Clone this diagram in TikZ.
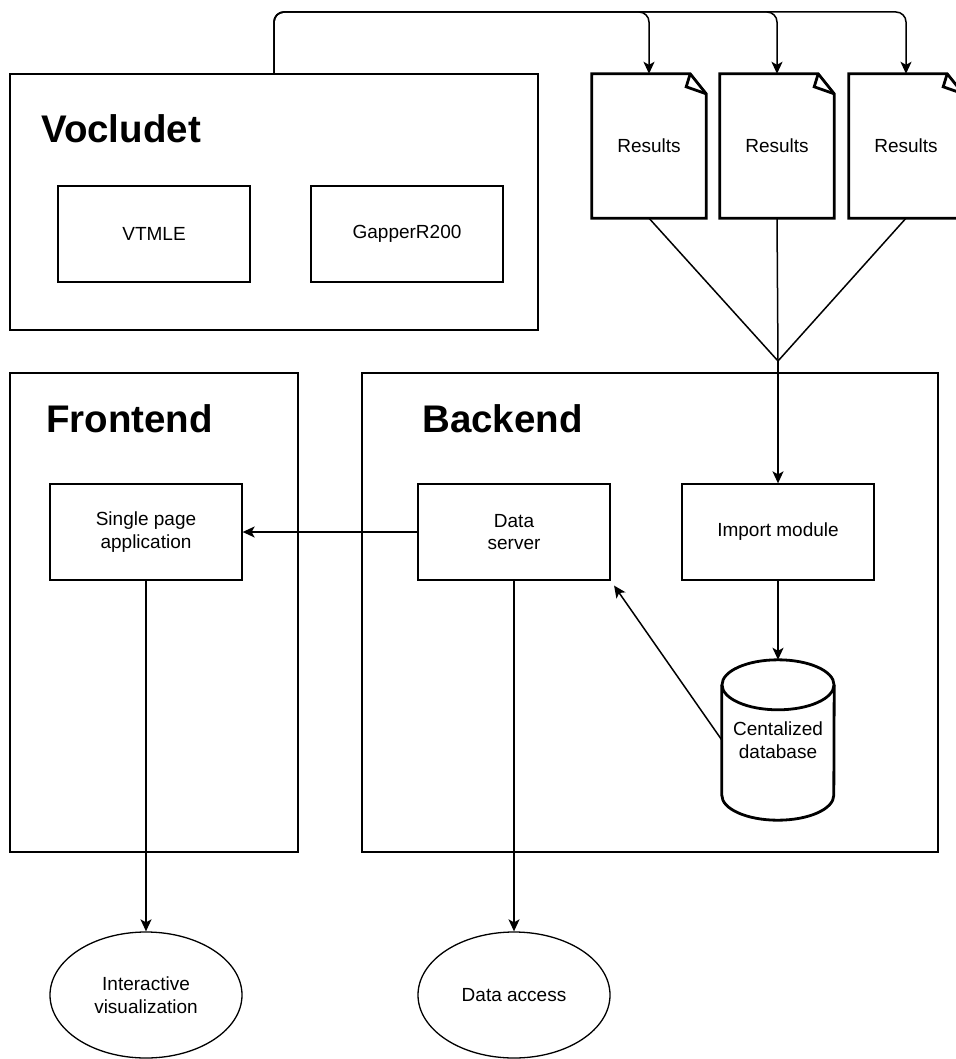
\documentclass[tikz,border=0pt]{standalone}
\usepackage{fontspec}
\setmainfont{Liberation Sans}
\usetikzlibrary{arrows.meta,shapes.geometric,calc}
\tikzset{
  container/.style={draw, line width=1.3pt, inner sep=0pt},
  box/.style={draw, line width=1.3pt, minimum width=192pt, minimum height=96pt, align=center, inner sep=0pt, font=\fontsize{19}{22.5}\selectfont},
  title/.style={anchor=base west, inner sep=0pt, font=\fontsize{38.5}{46}\selectfont\bfseries},
  docnode/.style={minimum width=114pt, minimum height=144pt, inner sep=0pt, align=center, font=\fontsize{19}{22.5}\selectfont},
  docline/.style={line width=2.8pt, line join=miter},
  conn/.style={line width=1.5pt},
  arr/.style={conn, -{Stealth[length=12pt,width=11pt,inset=3pt]}},
  oval/.style={draw, ellipse, line width=1.3pt, minimum width=192pt, minimum height=126pt, inner sep=0pt, align=center, font=\fontsize{19}{22.5}\selectfont},
}
\begin{document}
\begin{tikzpicture}[x=1pt,y=-1pt]
\useasboundingbox (0,0) rectangle (955,1059);
% containers
\node[container, minimum width=528pt, minimum height=256pt] (voc) at (274,202) {};
\node[container, minimum width=288pt, minimum height=479pt] (fe) at (154,612.5) {};
\node[container, minimum width=576pt, minimum height=479pt] (be) at (650,612.5) {};
\node[title] (tvoc) at (41,143) {Vocludet};
\node[title] (tfe) at (46,432) {Frontend};
\node[title] (tbe) at (422,432) {Backend};
% inner boxes
\node[box] (vtmle) at (154,234) {VTMLE};
\node[box] (gap) at (407,234) {GapperR200};
\node[box] (spa) at (146,532) {Single page\\application};
\node[box] (ds) at (514,532) {Data\\server};
\node[box] (imp) at (778,532) {Import module};
% documents
\foreach \n/\x in {d1/649,d2/777,d3/906}{
  \node[docnode] (\n) at (\x,146) {Results};
  \draw[docline] ($(\n.north east)+(0,20)$) -- (\n.south east) -- (\n.south west) -- (\n.north west) -- ($(\n.north east)+(-16,0)$) -- cycle;
  \draw[docline] ($(\n.north east)+(-16,0)$) -- ($(\n.north east)+(-20,13)$) -- ($(\n.north east)+(0,20)$);
}
% database cylinder
\node[minimum width=112pt, minimum height=160pt, inner sep=0pt, align=center, font=\fontsize{19}{22.5}\selectfont] (db) at (778,740) {Centalized\\database};
\draw[line width=2.8pt] ($(db.north west)+(0,25)$) -- ($(db.south west)+(0,-25)$) arc[start angle=180,end angle=360,x radius=56pt,y radius=25pt] -- ($(db.north east)+(0,25)$);
\draw[line width=2.8pt] ($(db.north)+(0,25)$) ellipse[x radius=56pt,y radius=25pt];
% ovals
\node[oval] (iv) at (146,995) {Interactive\\visualization};
\node[oval] (da) at (514,995) {Data access};
% top connectors
\coordinate (bus) at (0,12);
\draw[arr, rounded corners=10pt] (voc.north) -- (voc.north |- bus) -- (d3.north |- bus) -- (d3.north);
\draw[arr, rounded corners=10pt] (voc.north) -- (voc.north |- bus) -- (d2.north |- bus) -- (d2.north);
\draw[arr, rounded corners=10pt] (voc.north) -- (voc.north |- bus) -- (d1.north |- bus) -- (d1.north);
% merge
\coordinate (m) at (778,361);
\draw[conn] (d1.south) -- (m);
\draw[conn] (d2.south) -- (m);
\draw[conn] (d3.south) -- (m);
\draw[arr] (m) -- (imp.north);
% other arrows
\draw[arr] (imp.south) -- (db.north);
\draw[arr, shorten >=6pt] (db.west) -- (ds.south east);
\draw[arr] (ds.west) -- (spa.east);
\draw[arr] (spa.south) -- (iv.north);
\draw[arr] (ds.south) -- (da.north);
\end{tikzpicture}
\end{document}
